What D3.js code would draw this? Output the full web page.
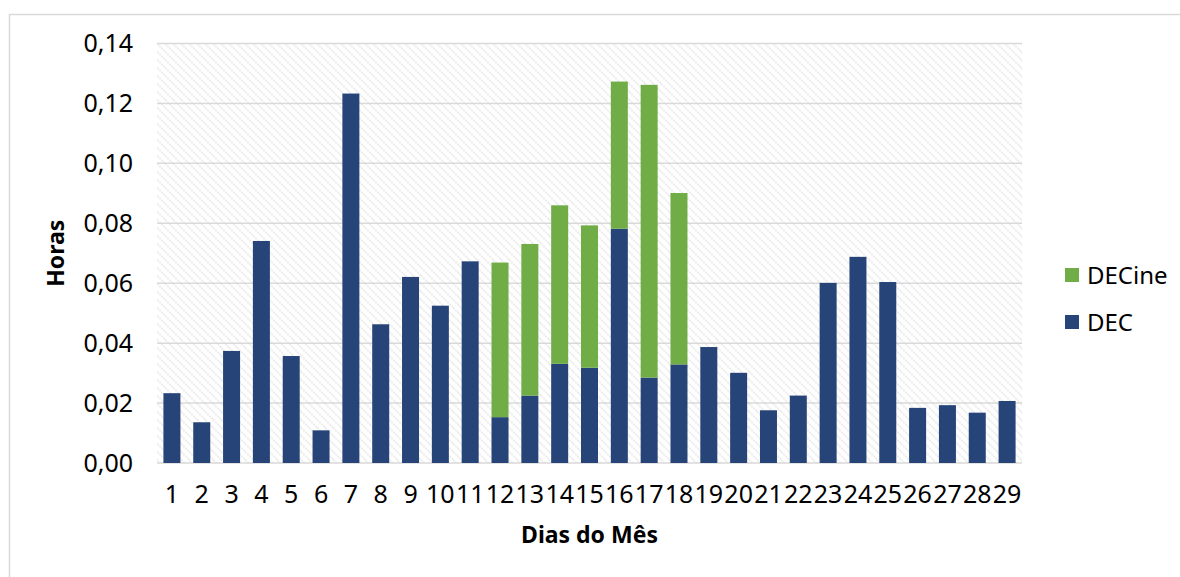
<!DOCTYPE html>
<meta charset="utf-8">
<script src="https://d3js.org/d3.v7.min.js"></script>
<style>
  body { margin: 0; background: #fff; }
  text { font-family: "Noto Sans", "Open Sans", sans-serif; fill: #000; }
</style>
<div id="chart"></div>
<script>

// values
var days = d3.range(1, 30).map(String);
var dec = [0.0233, 0.0136, 0.0374, 0.0741, 0.0357, 0.0109, 0.1233, 0.0463, 0.0621, 0.0525,
           0.0673, 0.0153, 0.0225, 0.0331, 0.0318, 0.0782, 0.0285, 0.0329, 0.0387, 0.0301,
           0.0176, 0.0225, 0.0601, 0.0688, 0.0604, 0.0184, 0.0193, 0.0168, 0.0207];
var decine = [0, 0, 0, 0, 0, 0, 0, 0, 0, 0,
              0, 0.0516, 0.0506, 0.0529, 0.0475, 0.0491, 0.0977, 0.0572, 0, 0,
              0, 0, 0, 0, 0, 0, 0, 0, 0];
var yTicks = [0, 0.02, 0.04, 0.06, 0.08, 0.10, 0.12, 0.14];
var seriesNames = ["DEC", "DECine"];
var seriesColors = ["#264478", "#70ad47"];

var W = 1180, H = 577;
var margin = {top: 43.5, right: 158, bottom: 114, left: 157};
var width = W - margin.left - margin.right,
    height = H - margin.top - margin.bottom;

var svg = d3.select("#chart").append("svg")
    .attr("width", W)
    .attr("height", H);

// hatch fill for the plot area
var defs = svg.append("defs");
var pat = defs.append("pattern")
    .attr("id", "hatch")
    .attr("patternUnits", "userSpaceOnUse")
    .attr("width", 8).attr("height", 8);
pat.append("rect").attr("width", 8).attr("height", 8).attr("fill", "#fff");
pat.append("path")
    .attr("d", "M-2,-2 L10,10 M-2,6 L2,10 M6,-2 L10,2")
    .attr("stroke", "#e6e6e6")
    .attr("stroke-width", 1.6)
    .attr("stroke-dasharray", "2,1");

// chart border (only top and left are in frame)
svg.append("rect")
    .attr("x", 9.5).attr("y", 14.5)
    .attr("width", W + 20).attr("height", H + 20)
    .attr("fill", "none")
    .attr("stroke", "#d9d9d9")
    .attr("stroke-width", 1.5);

var g = svg.append("g")
    .attr("transform", "translate(" + margin.left + "," + margin.top + ")");

g.append("rect")
    .attr("width", width).attr("height", height)
    .attr("fill", "url(#hatch)");

var x = d3.scaleBand()
    .domain(days)
    .range([0, width])
    .paddingInner(0.43)
    .paddingOuter(0.215);

var y = d3.scaleLinear()
    .domain([0, 0.14])
    .range([height, 0]);

// gridlines
g.append("g")
    .selectAll("line")
    .data(yTicks)
    .join("line")
      .attr("x1", 0).attr("x2", width)
      .attr("y1", d => y(d)).attr("y2", d => y(d))
      .attr("stroke", "#d9d9d9")
      .attr("stroke-width", 1.5);

// y axis labels
var fmt = d => d3.format(".2f")(d).replace(".", ",");
var yAxis = g.append("g")
    .attr("transform", "translate(-24,0)")
    .call(d3.axisLeft(y).tickValues(yTicks).tickFormat(fmt).tickSize(0).tickPadding(0));
yAxis.select(".domain").remove();
yAxis.selectAll("text")
    .attr("font-family", "'Noto Sans', sans-serif")
    .attr("font-size", 25)
    .attr("fill", "#000");

// x axis labels
var xAxis = g.append("g")
    .attr("transform", "translate(0," + height + ")")
    .call(d3.axisBottom(x).tickSize(0).tickPadding(22));
xAxis.select(".domain").remove();
xAxis.selectAll("text")
    .attr("font-family", "'Noto Sans', sans-serif")
    .attr("font-size", 25)
    .attr("fill", "#000");

// stacked bars
var rows = days.map((d, i) => ({day: d, DEC: dec[i], DECine: decine[i]}));
var stack = d3.stack().keys(seriesNames)(rows);
var color = d3.scaleOrdinal().domain(seriesNames).range(seriesColors);

g.append("g")
  .selectAll("g")
  .data(stack)
  .join("g")
    .attr("fill", d => color(d.key))
  .selectAll("rect")
  .data(d => d.filter(p => p[1] - p[0] > 0))
  .join("rect")
    .attr("x", d => x(d.data.day))
    .attr("y", d => y(d[1]))
    .attr("width", x.bandwidth())
    .attr("height", d => y(d[0]) - y(d[1]));

// axis titles
svg.append("text")
    .attr("x", margin.left + width / 2)
    .attr("y", 543)
    .attr("text-anchor", "middle")
    .attr("font-size", 23)
    .attr("font-weight", "bold")
    .text("Dias do Mês");

svg.append("text")
    .attr("transform", "translate(64," + (margin.top + height / 2) + ") rotate(-90)")
    .attr("text-anchor", "middle")
    .attr("font-size", 23)
    .attr("font-weight", "bold")
    .text("Horas");

// legend (DECine on top)
var legend = svg.append("g")
    .attr("transform", "translate(1065,268)")
    .selectAll("g")
    .data(seriesNames.slice().reverse())
    .join("g")
      .attr("transform", (d, i) => "translate(0," + i * 47 + ")");
legend.append("rect")
    .attr("width", 14).attr("height", 14)
    .attr("fill", d => color(d));
legend.append("text")
    .attr("x", 22)
    .attr("y", 16)
    .attr("font-size", 24)
    .text(d => d);

</script>
